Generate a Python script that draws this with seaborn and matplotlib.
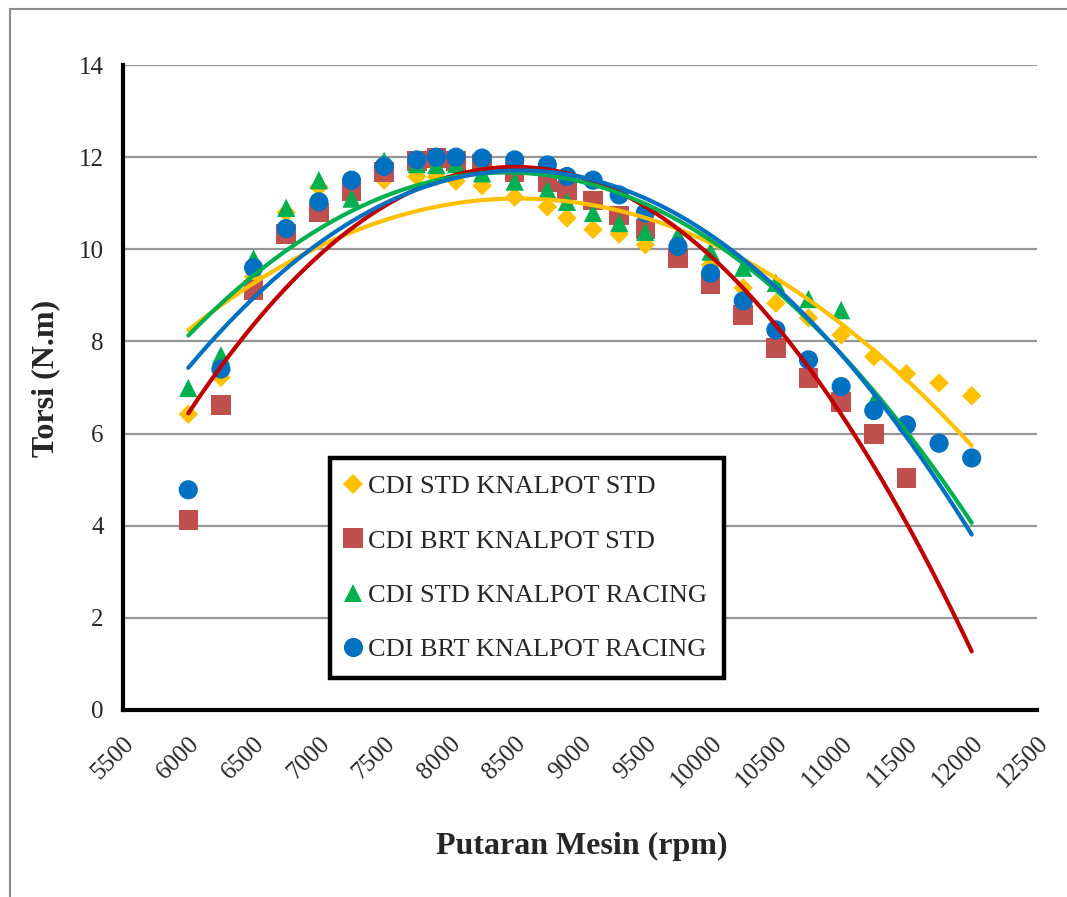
import numpy as np
import pandas as pd
import matplotlib
matplotlib.use("Agg")
import matplotlib.pyplot as plt
import seaborn as sns
from matplotlib.lines import Line2D
from matplotlib.patches import Rectangle

# ---------------- data ----------------
rpm = [6000, 6250, 6500, 6750, 7000, 7250, 7500, 7750, 7900, 8050, 8250, 8500, 8750,
       8900, 9100, 9300, 9500, 9750, 10000, 10250, 10500, 10750, 11000, 11250, 11500,
       11750, 12000]

cdi_std_knalpot_std = [6.42, 7.22, 9.40, 10.80, 11.35, 11.30, 11.50, 11.58, 11.57, 11.48,
                       11.38, 11.13, 10.92, 10.68, 10.43, 10.33, 10.10, 10.00, 9.66, 9.16,
                       8.83, 8.51, 8.14, 7.67, 7.30, 7.10, 6.82]
cdi_brt_knalpot_std = [4.12, 6.62, 9.12, 10.33, 10.80, 11.25, 11.68, 11.92, 11.98, 11.92,
                       11.85, 11.68, 11.46, 11.27, 11.06, 10.73, 10.44, 9.80, 9.25, 8.57,
                       7.86, 7.21, 6.69, 5.99, 5.04, np.nan, np.nan]
cdi_std_knalpot_racing = [6.99, 7.70, 9.80, 10.90, 11.50, 11.10, 11.92, 11.85, 11.83, 11.85,
                          11.65, 11.47, 11.29, 11.03, 10.79, 10.57, 10.38, 10.30, 9.95, 9.60,
                          9.27, 8.92, 8.68, 6.69, np.nan, np.nan, np.nan]
cdi_brt_knalpot_racing = [4.78, 7.40, 9.60, 10.45, 11.03, 11.50, 11.80, 11.94, 12.00, 12.00,
                          11.98, 11.94, 11.83, 11.58, 11.50, 11.18, 10.79, 10.06, 9.48, 8.88,
                          8.25, 7.60, 7.02, 6.50, 6.19, 5.79, 5.47]

series_names = ["CDI STD KNALPOT STD", "CDI BRT KNALPOT STD",
                "CDI STD KNALPOT RACING", "CDI BRT KNALPOT RACING"]
series_values = [cdi_std_knalpot_std, cdi_brt_knalpot_std,
                 cdi_std_knalpot_racing, cdi_brt_knalpot_racing]

x_ticks = list(range(5500, 12501, 500))
y_ticks = list(range(0, 15, 2))

# ---------------- styles ----------------
marker_colors = ["#FFC000", "#C0504D", "#00B050", "#0070C0"]
line_colors = ["#FFC000", "#C00000", "#00B050", "#0070C0"]
markers = ["D", "s", "^", "o"]
marker_ms = [9.9, 14.0, 13.2, 13.8]

sns.set_style("white")
plt.rcParams["font.family"] = ["Liberation Serif", "DejaVu Serif"]

fig = plt.figure(figsize=(10.67, 8.97), dpi=100)
ax = fig.add_axes([123 / 1067, 1 - 710 / 897, (1037 - 123) / 1067, (710 - 65) / 897])

# markers
for name, vals, col, mk, ms in zip(series_names, series_values, marker_colors, markers, marker_ms):
    df = pd.DataFrame({"rpm": rpm, "torsi": vals}).dropna()
    sns.scatterplot(data=df, x="rpm", y="torsi", marker=mk, s=ms ** 2, color=col,
                    edgecolor="none", linewidth=0, ax=ax, zorder=3, legend=False)

# polynomial (order 2) trendlines
xs = np.linspace(6000, 12000, 300)
for vals, col in zip(series_values, line_colors):
    df = pd.DataFrame({"rpm": rpm, "torsi": vals}).dropna()
    coef = np.polyfit(df["rpm"], df["torsi"], 2)
    sns.lineplot(x=xs, y=np.polyval(coef, xs), color=col, lw=3.0, ax=ax, zorder=4,
                 solid_capstyle="round")

ax.set_xlim(5500, 12500)
ax.set_ylim(0, 14)
ax.set_xticks(x_ticks)
ax.set_yticks(y_ticks)
ax.set_xticklabels([str(t) for t in x_ticks], rotation=45, ha="right", va="top",
                   rotation_mode="anchor", fontsize=18)
ax.set_yticklabels([str(t) for t in y_ticks], fontsize=18)

ax.yaxis.grid(True, color="#969696", lw=1.6)
ax.xaxis.grid(False)
ax.set_axisbelow(True)

for side in ["top", "right"]:
    ax.spines[side].set_visible(False)
for side in ["left", "bottom"]:
    ax.spines[side].set_linewidth(3)
    ax.spines[side].set_color("black")
ax.tick_params(axis="both", direction="out", length=6, width=3, color="black", pad=8)
ax.tick_params(axis="x", pad=10)

ax.set_xlabel("Putaran Mesin (rpm)", fontsize=23, fontweight="bold")
ax.set_ylabel("Torsi (N.m)", fontsize=23, fontweight="bold")
ax.xaxis.set_label_coords((582 - 123) / 914, (710 - 832) / 645)
ax.yaxis.set_label_coords((60 - 123) / 914, (710 - 378) / 645)

handles = [Line2D([], [], ls="none", marker=mk, color=col, markersize=ms,
                  markeredgewidth=0)
           for mk, col, ms in zip(markers, marker_colors, marker_ms)]
leg = ax.legend(handles, series_names, loc="upper left",
                bbox_to_anchor=((330 - 123) / 914, (710 - 458) / 645),
                fontsize=19, frameon=True, fancybox=False, framealpha=1,
                handlelength=0.45, handletextpad=0.36, labelspacing=1.17,
                borderpad=0.64, borderaxespad=0, edgecolor="black")
leg.get_frame().set_linewidth(3.2)
leg.set_zorder(10)

# outer chart border (Excel chart area)
fig.patches.append(Rectangle((10 / 1067, -0.2), 1.5, 1.2 - 9 / 897, transform=fig.transFigure,
                             fill=False, ec="#8c8c8c", lw=1.5))

fig.savefig("out.png", dpi=100)
